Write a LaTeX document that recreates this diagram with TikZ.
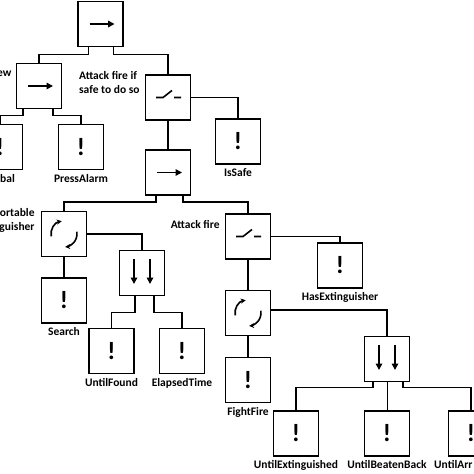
\documentclass[tikz,border=0pt]{standalone}
\usepackage{fontspec}
\setmainfont{Carlito}
\usetikzlibrary{positioning, arrows.meta}

\begin{document}
\begin{tikzpicture}[
    x=1pt, y=1pt,
    box/.style={draw, line width=1.5pt, minimum size=45pt, inner sep=0pt},
    act/.style={box, font=\fontsize{25}{25}\selectfont\bfseries},
    lbl/.style={font=\fontsize{11.5}{14}\selectfont\bfseries, inner sep=0pt, text height=8pt, text depth=2pt},
    link/.style={line width=1.5pt},
    sym/.style={line width=1.6pt},
    tip/.style={-{Triangle[length=6.5pt, width=6.5pt]}},
]

\useasboundingbox (0,0) rectangle (474,-474);
\clip (0,0) rectangle (474,-474);

% control nodes
\node[box] (root) at (100.5,-24) {};
\node[box] (crew) at (39,-86) {};
\node[box] (safefb) at (168,-97.5) {};
\node[box] (seq2) at (168,-172.5) {};
\node[box] (findrep) at (64,-234) {};
\node[box] (par1) at (142,-273) {};
\node[box] (attack) at (248,-236.5) {};
\node[box] (rep2) at (248,-313) {};
\node[box] (par2) at (387,-359) {};

% actions
\node[act] (bal) at (0,-147) {!};
\node[act] (press) at (81,-147) {!};
\node[act] (issafe) at (238,-141.5) {!};
\node[act] (search) at (64,-300.5) {!};
\node[act] (found) at (111.5,-351) {!};
\node[act] (elapsed) at (182,-351) {!};
\node[act] (hasext) at (340,-265.5) {!};
\node[act] (fight) at (248,-380) {!};
\node[act] (untilext) at (296,-433.5) {!};
\node[act] (beaten) at (387,-433.5) {!};
\node[act] (arr) at (471,-433.5) {!};

% labels
\node[lbl, below=4pt of press] (pressL) {PressAlarm};
\node[lbl, anchor=north west] (balL) at ([yshift=-4pt]bal.south) {bal};
\node[lbl, below=4pt of issafe] (issafeL) {IsSafe};
\node[lbl, below=4pt of search] (searchL) {Search};
\node[lbl, below=4pt of found] (foundL) {UntilFound};
\node[lbl, below=4pt of elapsed] (elapsedL) {ElapsedTime};
\node[lbl, below=4pt of hasext] (hasextL) {HasExtinguisher};
\node[lbl, below=4pt of fight] (fightL) {FightFire};
\node[lbl, below=4pt of untilext] (untilextL) {UntilExtinguished};
\node[lbl, below=4pt of beaten] (beatenL) {UntilBeatenBack};
\node[lbl, anchor=north west] (arrL) at ([yshift=-4pt]434,-456) {UntilArr};
\node[lbl, anchor=east] (crewL) at ([xshift=-4pt, yshift=13pt]crew.west) {ew};
\node[lbl, anchor=east, align=left] (safeL) at ([xshift=-5pt, yshift=7pt]safefb.west) {Attack fire if\\safe to do so};
\node[lbl, anchor=east, align=right] (findL) at ([xshift=-6pt, yshift=7pt]findrep.west) {ortable\\guisher};
\node[lbl, anchor=east] (attackL) at ([xshift=-5pt, yshift=11pt]attack.west) {Attack fire};

% symbols
\foreach \n in {root, crew, seq2}
    \draw[sym, tip] ([xshift=-11pt]\n.center) -- ([xshift=14pt]\n.center);
\foreach \n in {safefb, attack}
    \draw[sym] ([xshift=-12pt]\n.center) -- ++(7pt,0) -- ++(9pt,7pt)
        ([xshift=6pt]\n.center) -- ++(7pt,0);
\foreach \n in {findrep, rep2} {
    \draw[sym, -{Stealth[length=5pt, width=5pt]}] ([shift={(190:13pt)}]\n.center)
        arc[start angle=190, end angle=100, radius=13pt];
    \draw[sym, -{Stealth[length=5pt, width=5pt]}] ([shift={(10:13pt)}]\n.center)
        arc[start angle=10, end angle=-85, radius=13pt];
}
\foreach \n in {par1, par2} {
    \draw[sym, tip] ([shift={(-8pt,14pt)}]\n.center) -- ++(0,-25pt);
    \draw[sym, tip] ([shift={(8pt,14pt)}]\n.center) -- ++(0,-25pt);
}

% connectors
\draw[link] ([xshift=-12pt]root.south) -- ++(0,-7pt) -| (crew.north);
\draw[link] ([xshift=13pt]root.south) -- ++(0,-7pt) -| (safefb.north);
\draw[link] ([xshift=-16pt]crew.south) -- ++(0,-6pt) -| (bal.north);
\draw[link] ([xshift=14pt]crew.south) -- ++(0,-6pt) -| (press.north);
\draw[link] (safefb.south) -- (seq2.north);
\draw[link] (safefb.east) -| (issafe.north);
\draw[link] ([xshift=-12pt]seq2.south) -- ++(0,-6pt) -| (findrep.north);
\draw[link] ([xshift=15pt]seq2.south) -- ++(0,-6pt) -| (attack.north);
\draw[link] (findrep.south) -- (search.north);
\draw[link] (findrep.east) -| (par1.north);
\draw[link] ([xshift=-7pt]par1.south) -- ++(0,-16pt) -| (found.north);
\draw[link] ([xshift=12pt]par1.south) -- ++(0,-16pt) -| (elapsed.north);
\draw[link] (attack.east) -| (hasext.north);
\draw[link] (attack.south) -- (rep2.north);
\draw[link] (rep2.south) -- (fight.north);
\draw[link] ([yshift=3pt]rep2.east) -| (par2.north);
\draw[link] ([xshift=-14pt]par2.south) -- ++(0,-5pt) -| (untilext.north);
\draw[line width=0.8pt] (par2.south) -- (beaten.north);
\draw[link] ([xshift=16pt]par2.south) -- ++(0,-5pt) -| (arr.north);

\end{tikzpicture}
\end{document}
